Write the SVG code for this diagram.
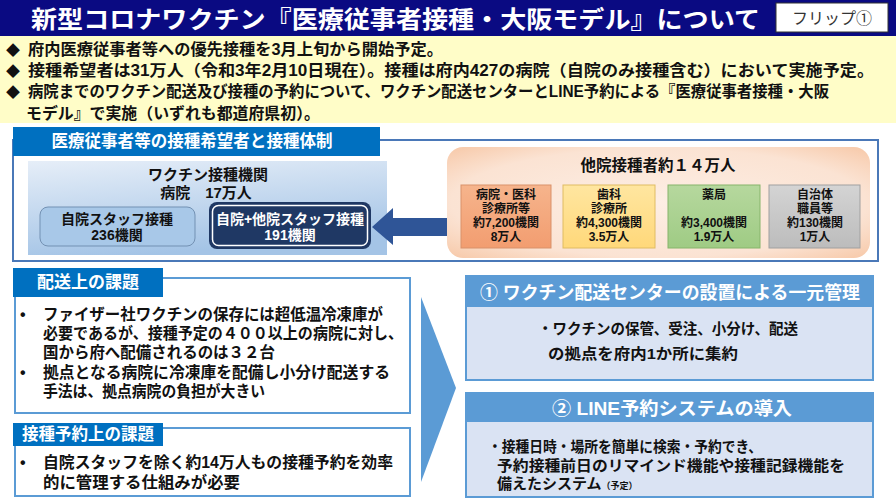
<svg xmlns="http://www.w3.org/2000/svg" width="896" height="504" viewBox="0 0 896 504">
<defs>
<style>
text{font-family:"Liberation Sans","Noto Sans CJK JP",sans-serif;font-weight:bold;fill:#111}
.w{fill:#fff}
.c{text-anchor:middle}
.b16{font-size:16px}
.b15{font-size:15px}
.s12{font-size:12px}
.head{fill:#0070c0}
.frame{fill:#fff;stroke:#5b9bd5;stroke-width:2}
.rhead{fill:#5b9bd5}
.rbody{fill:#dae3f3;stroke:#5b9bd5;stroke-width:2}
</style>
<linearGradient id="gBlue" x1="0" y1="0" x2="0.3" y2="1">
<stop offset="0" stop-color="#e6eef8"/>
<stop offset="1" stop-color="#a4c4e6"/>
</linearGradient>
<radialGradient id="gPeach" cx="0.5" cy="0.5" r="0.7">
<stop offset="0" stop-color="#fdeee4"/>
<stop offset="0.7" stop-color="#fbe3d3"/>
<stop offset="1" stop-color="#f7c9a9"/>
</radialGradient>
<linearGradient id="gSalmon" x1="0" y1="0" x2="0" y2="1"><stop offset="0" stop-color="#f6b48c"/><stop offset="1" stop-color="#f29d70"/></linearGradient>
<linearGradient id="gYellow" x1="0" y1="0" x2="0" y2="1"><stop offset="0" stop-color="#ffe6a0"/><stop offset="1" stop-color="#ffd87a"/></linearGradient>
<linearGradient id="gGreen" x1="0" y1="0" x2="0" y2="1"><stop offset="0" stop-color="#b6d89e"/><stop offset="1" stop-color="#9fcb84"/></linearGradient>
<linearGradient id="gGray" x1="0" y1="0" x2="0" y2="1"><stop offset="0" stop-color="#d4d4d4"/><stop offset="1" stop-color="#bcbcbc"/></linearGradient>
</defs>

<!-- title bar -->
<g id="title">
<rect x="0" y="0" width="896" height="36" fill="#0a0a82"/>
<text x="31" y="28" class="w" font-size="24" textLength="729" lengthAdjust="spacingAndGlyphs">新型コロナワクチン『医療従事者接種・大阪モデル』について</text>
<rect x="776" y="3" width="112" height="29" fill="#fff" stroke="#333" stroke-width="1"/>
<text x="832" y="24" class="c" font-size="16" style="font-weight:normal;fill:#333">フリップ①</text>
</g>

<!-- summary band -->
<g id="summary">
<rect x="0" y="36" width="896" height="87" fill="#fffdc8"/>
<text class="b16"><tspan x="6" y="55" font-size="14">◆</tspan><tspan x="28" y="55" textLength="415" lengthAdjust="spacingAndGlyphs">府内医療従事者等への優先接種を3月上旬から開始予定。</tspan><tspan x="6" y="76" font-size="14">◆</tspan><tspan x="28" y="76" textLength="846" lengthAdjust="spacingAndGlyphs">接種希望者は31万人（令和3年2月10日現在）。接種は府内427の病院（自院のみ接種含む）において実施予定。</tspan><tspan x="6" y="97" font-size="14">◆</tspan><tspan x="28" y="97" textLength="801" lengthAdjust="spacingAndGlyphs">病院までのワクチン配送及び接種の予約について、ワクチン配送センターとLINE予約による『医療従事者接種・大阪</tspan><tspan x="26" y="119" textLength="294" lengthAdjust="spacingAndGlyphs">モデル』で実施（いずれも都道府県初）。</tspan></text>
</g>

<!-- top section -->
<g id="system">
<rect x="13" y="140" width="865" height="121" fill="#fff" stroke="#4a78b8" stroke-width="2"/>
<rect x="13" y="127" width="367" height="29" class="head"/>
<text x="192" y="147" class="w c" font-size="17" textLength="281" lengthAdjust="spacingAndGlyphs">医療従事者等の接種希望者と接種体制</text>
</g>

<g id="institutions">
<rect x="28" y="161" width="359" height="94" fill="url(#gBlue)"/>
<text class="c b15"><tspan x="208" y="180">ワクチン接種機関</tspan><tspan x="206" y="198">病院　17万人</tspan></text>
</g>

<g id="own-staff">
<rect x="40" y="207" width="155" height="39" rx="8" fill="#a8c8e8" stroke="#7391b3" stroke-width="1"/>
<text class="c" font-size="14"><tspan x="117" y="224">自院スタッフ接種</tspan><tspan x="117" y="240">236機関</tspan></text>
</g>

<g id="other-staff">
<rect x="209" y="202" width="162" height="47" rx="8" fill="#1f3864"/>
<rect x="212.5" y="205.5" width="155" height="40" rx="6" fill="none" stroke="#fff" stroke-width="1.5"/>
<text class="c w" font-size="14"><tspan x="290" y="224">自院+他院スタッフ接種</tspan><tspan x="290" y="240">191機関</tspan></text>
</g>

<g id="connectors">
<polygon points="372,227 393,208 393,218 455,218 455,236 393,236 393,245" fill="#2f5597"/>
<polygon points="421,297 456,388 421,482" fill="#5b9bd5"/>
</g>

<g id="others">
<rect x="447" y="147" width="423" height="111" rx="16" fill="url(#gPeach)"/>
<text x="658" y="171" class="c" font-size="15.5">他院接種者約１４万人</text>
</g>

<g id="hospital-clinic">
<rect x="461" y="185" width="90" height="63" fill="url(#gSalmon)" stroke="#d9916a" stroke-width="1"/>
<text class="c s12"><tspan x="506" y="199">病院・医科</tspan><tspan x="506" y="213">診療所等</tspan><tspan x="506" y="227">約7,200機関</tspan><tspan x="506" y="241">8万人</tspan></text>
</g>
<g id="dental">
<rect x="563" y="185" width="92" height="63" fill="url(#gYellow)" stroke="#e0bc62" stroke-width="1"/>
<text class="c s12"><tspan x="609" y="199">歯科</tspan><tspan x="609" y="213">診療所</tspan><tspan x="609" y="227">約4,300機関</tspan><tspan x="609" y="241">3.5万人</tspan></text>
</g>
<g id="pharmacy">
<rect x="668" y="185" width="92" height="63" fill="url(#gGreen)" stroke="#86b46a" stroke-width="1"/>
<text class="c s12"><tspan x="714" y="199">薬局</tspan><tspan x="714" y="227">約3,400機関</tspan><tspan x="714" y="241">1.9万人</tspan></text>
</g>
<g id="municipal">
<rect x="769" y="185" width="91" height="63" fill="url(#gGray)" stroke="#a0a0a0" stroke-width="1"/>
<text class="c s12"><tspan x="815" y="199">自治体</tspan><tspan x="815" y="213">職員等</tspan><tspan x="815" y="227">約130機関</tspan><tspan x="815" y="241">1万人</tspan></text>
</g>

<!-- delivery issues -->
<g id="delivery-issue">
<rect x="15" y="278" width="395" height="135" class="frame"/>
<rect x="13" y="268" width="150" height="29" class="head"/>
<text x="88" y="288" class="w c" font-size="17">配送上の課題</text>
<text class="b16"><tspan x="20" y="320">•</tspan><tspan x="43" y="320" textLength="340" lengthAdjust="spacingAndGlyphs">ファイザー社ワクチンの保存には超低温冷凍庫が</tspan><tspan x="43" y="339" textLength="360" lengthAdjust="spacingAndGlyphs">必要であるが、接種予定の４００以上の病院に対し、</tspan><tspan x="43" y="358" textLength="232" lengthAdjust="spacingAndGlyphs">国から府へ配備されるのは３２台</tspan><tspan x="20" y="378">•</tspan><tspan x="43" y="378" textLength="347" lengthAdjust="spacingAndGlyphs">拠点となる病院に冷凍庫を配備し小分け配送する</tspan><tspan x="43" y="397" textLength="222" lengthAdjust="spacingAndGlyphs">手法は、拠点病院の負担が大きい</tspan></text>
</g>

<!-- reservation issues -->
<g id="reservation-issue">
<rect x="15" y="428" width="395" height="68" class="frame"/>
<rect x="13" y="423" width="150" height="23" class="head"/>
<text x="88" y="440" class="w c" font-size="16.5" textLength="132" lengthAdjust="spacingAndGlyphs">接種予約上の課題</text>
<text class="b16"><tspan x="20" y="468">•</tspan><tspan x="43" y="468" textLength="350" lengthAdjust="spacingAndGlyphs">自院スタッフを除く約14万人もの接種予約を効率</tspan><tspan x="43" y="488" textLength="197" lengthAdjust="spacingAndGlyphs">的に管理する仕組みが必要</tspan></text>
</g>

<!-- solution 1 -->
<g id="delivery-center">
<rect x="466" y="276" width="407" height="104" class="rbody"/>
<rect x="466" y="276" width="407" height="31" class="rhead"/>
<text x="670" y="299" class="w c" font-size="18" textLength="380" lengthAdjust="spacingAndGlyphs">①  ワクチン配送センターの設置による一元管理</text>
<text class="b15"><tspan x="538" y="334" textLength="260" lengthAdjust="spacingAndGlyphs">・ワクチンの保管、受注、小分け、配送</tspan><tspan x="548" y="359" textLength="190" lengthAdjust="spacingAndGlyphs">の拠点を府内1か所に集約</tspan></text>
</g>

<!-- solution 2 -->
<g id="line-system">
<rect x="466" y="393" width="407" height="104" class="rbody"/>
<rect x="466" y="393" width="407" height="29" class="rhead"/>
<text x="672" y="415" class="w c" font-size="18" textLength="240" lengthAdjust="spacingAndGlyphs">②  LINE予約システムの導入</text>
<text class="b15"><tspan x="488" y="452" textLength="274" lengthAdjust="spacingAndGlyphs">・接種日時・場所を簡単に検索・予約でき、</tspan><tspan x="497" y="471" textLength="348" lengthAdjust="spacingAndGlyphs">予約接種前日のリマインド機能や接種記録機能を</tspan><tspan x="497" y="489">備えたシステム</tspan><tspan font-size="9">（予定）</tspan></text>
</g>
</svg>
